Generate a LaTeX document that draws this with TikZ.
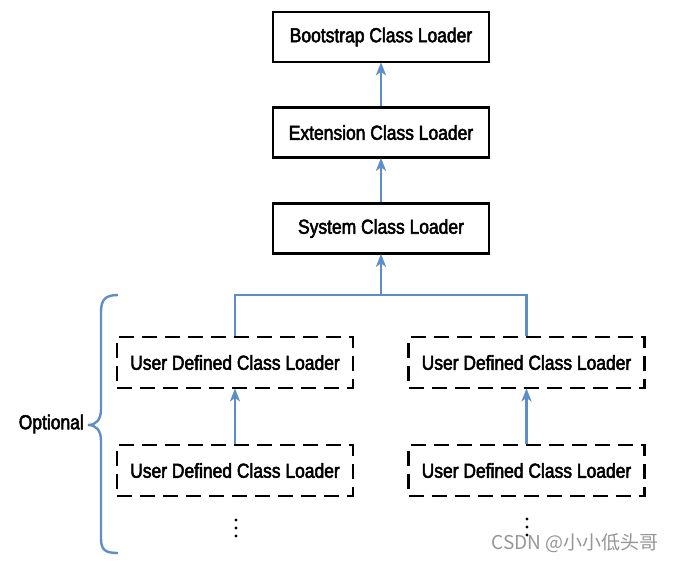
\documentclass[tikz,border=0pt]{standalone}
\usepackage{fontspec}
\setmainfont[FakeStretch=0.86,FakeBold=2.5]{Liberation Sans}
\newfontfamily\cjkfont{Noto Sans CJK SC}
\usetikzlibrary{arrows.meta}
\definecolor{linkblue}{RGB}{94,142,200}
\definecolor{wmgray}{RGB}{150,150,150}
\tikzset{
  loader/.style={draw=black, line width=2.6pt, fill=white, inner sep=0pt,
    minimum width=216pt, minimum height=50pt, font=\fontsize{20.3}{24}\selectfont},
  userloader/.style={draw=black, line width=2.8pt, dash pattern=on 15pt off 8pt,
    fill=white, inner sep=0pt, minimum width=236pt, minimum height=51pt,
    font=\fontsize{20.3}{24}\selectfont},
  link/.style={draw=linkblue, line width=2.4pt},
  uplink/.style={link, shorten >=-1pt, -{Stealth[length=13pt,width=10pt,inset=3.5pt]}},
  dot/.style={fill=black}
}
\begin{document}
\begin{tikzpicture}[x=1pt,y=-1pt]
\useasboundingbox (0,0) rectangle (674,561);
\fill[white] (0,0) rectangle (674,561);
% solid loaders
\node[loader] (boot) at (381,37) {Bootstrap Class Loader};
\node[loader] (ext) at (381,132.5) {Extension Class Loader};
\node[loader] (sys) at (381,228.5) {System Class Loader};
% dashed loaders
\node[userloader] (ul) at (235,362.5) {User Defined Class Loader};
\node[userloader] (ur) at (526.5,362.5) {User Defined Class Loader};
\node[userloader] (ll) at (235,470.5) {User Defined Class Loader};
\node[userloader] (lr) at (526.5,470.5) {User Defined Class Loader};
% connectors
\draw[uplink] (ext.north) -- (boot.south);
\draw[uplink] (sys.north) -- (ext.south);
\coordinate (j) at (381,295);
\draw[link] (ul.north) |- (j) -| (ur.north);
\draw[uplink] (j) -- (sys.south);
\draw[uplink] (ll.north) -- (ul.south);
\draw[uplink] (lr.north) -- (ur.south);
% continuation dots
\foreach \yy in {520,528,536} {\fill[dot] (236,\yy) circle (1.6pt);}
\foreach \yy in {519,527,535} {\fill[dot] (527,\yy) circle (1.6pt);}
% brace
\draw[link] (118,295) .. controls (105,295) and (101,300) .. (101,312) -- (101,409)
  .. controls (101,420) and (96,425) .. (88,425)
  .. controls (96,425) and (101,430) .. (101,441) -- (101,538)
  .. controls (101,550) and (105,553) .. (118,553);
\node[anchor=east, font=\fontsize{20.3}{24}\selectfont, inner sep=0pt] (opt) at (84,424) {Optional};
% watermark
\node[anchor=east, text=wmgray, font=\cjkfont\fontsize{19}{22}\selectfont, inner sep=0pt] (wm) at (659,543) {CSDN @小小低头哥};
\end{tikzpicture}
\end{document}
